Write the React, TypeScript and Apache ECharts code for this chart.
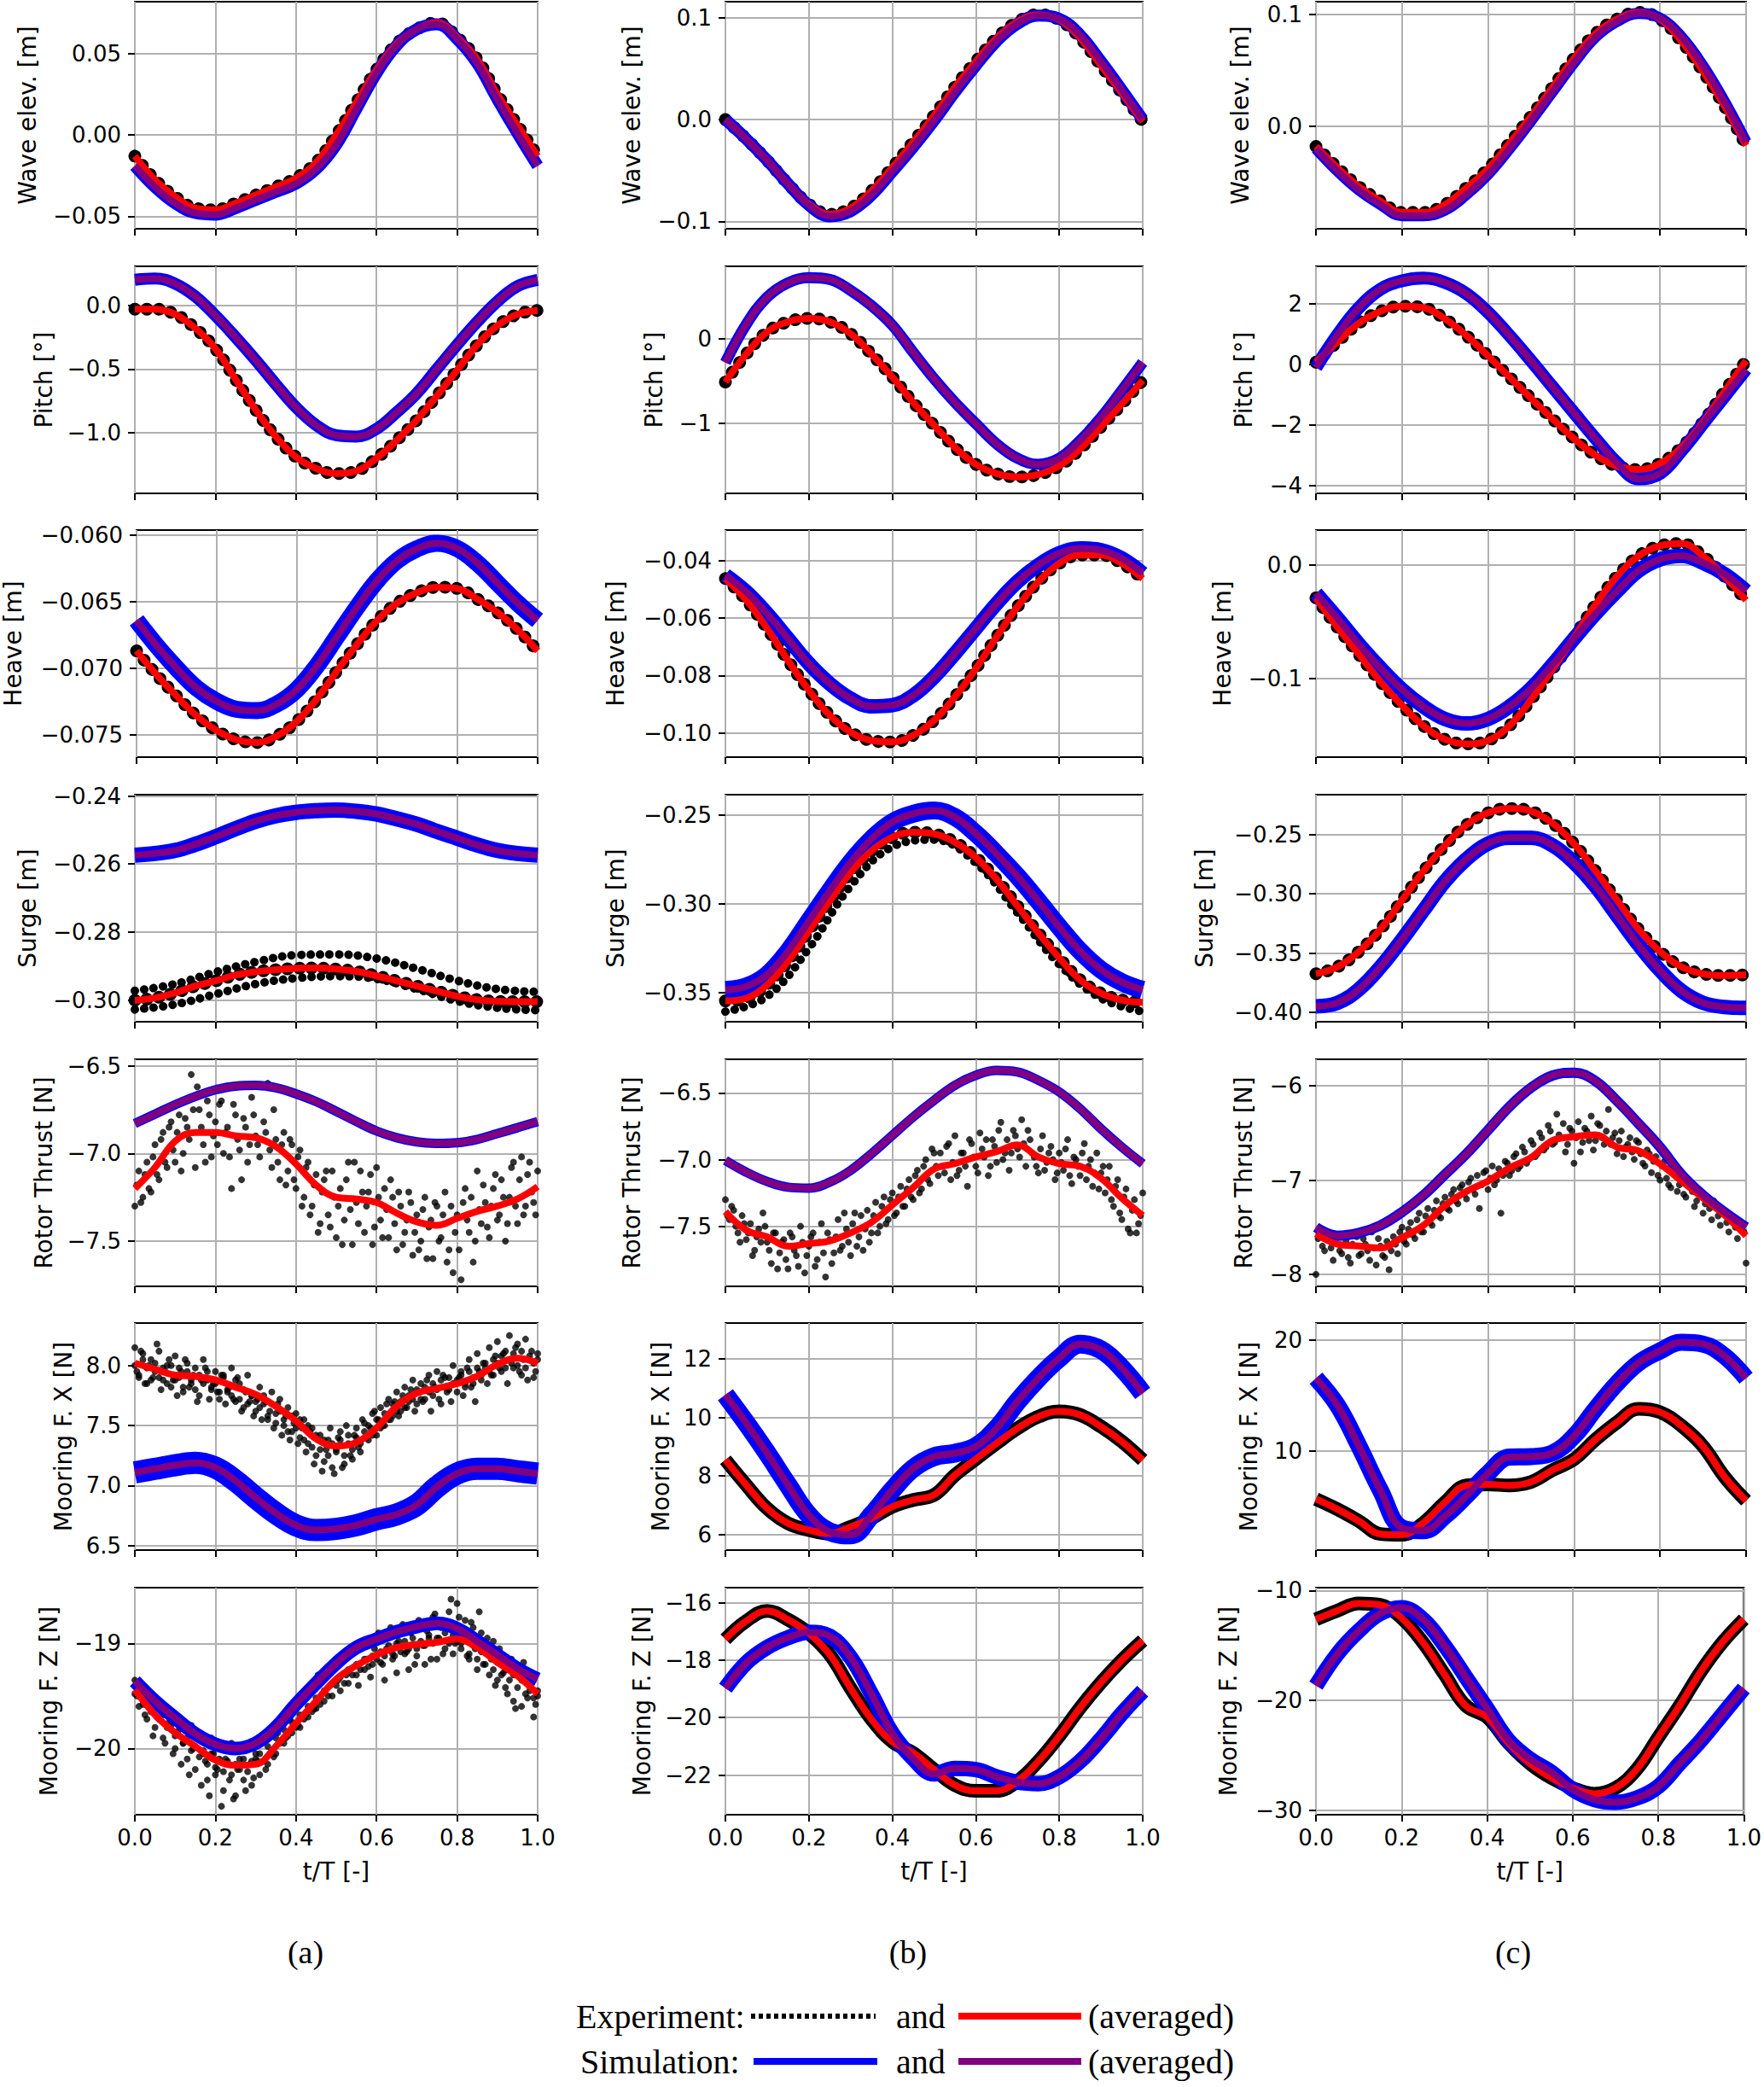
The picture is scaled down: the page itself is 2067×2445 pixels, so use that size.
import { useEffect, useRef } from "react";
import * as echarts from "echarts";

// time grids (t/T)
const T = [0, 0.05, 0.1, 0.15, 0.2, 0.25, 0.3, 0.35, 0.4, 0.45, 0.5, 0.55, 0.6, 0.65, 0.7, 0.75, 0.8, 0.85, 0.9, 0.95, 1];
const T10 = [0, 0.1, 0.2, 0.3, 0.4, 0.5, 0.6, 0.7, 0.8, 0.9, 1];
const TS = [
  0, 0.01, 0.02, 0.03, 0.04, 0.05, 0.06, 0.07, 0.08, 0.09, 0.1, 0.11, 0.12, 0.13, 0.14, 0.15, 0.16, 0.17, 0.18, 0.19,
  0.2, 0.21, 0.22, 0.23, 0.24, 0.25, 0.26, 0.27, 0.28, 0.29, 0.3, 0.31, 0.32, 0.33, 0.34, 0.35, 0.36, 0.37, 0.38, 0.39,
  0.4, 0.41, 0.42, 0.43, 0.44, 0.45, 0.46, 0.47, 0.48, 0.49, 0.5, 0.51, 0.52, 0.53, 0.54, 0.55, 0.56, 0.57, 0.58, 0.59,
  0.6, 0.61, 0.62, 0.63, 0.64, 0.65, 0.66, 0.67, 0.68, 0.69, 0.7, 0.71, 0.72, 0.73, 0.74, 0.75, 0.76, 0.77, 0.78, 0.79,
  0.8, 0.81, 0.82, 0.83, 0.84, 0.85, 0.86, 0.87, 0.88, 0.89, 0.9, 0.91, 0.92, 0.93, 0.94, 0.95, 0.96, 0.97, 0.98, 0.99, 1,
];
const TS2 = [
  0.005, 0.015, 0.025, 0.035, 0.045, 0.055, 0.065, 0.075, 0.085, 0.095, 0.105, 0.115, 0.125, 0.135, 0.145, 0.155, 0.165, 0.175, 0.185, 0.195,
  0.205, 0.215, 0.225, 0.235, 0.245, 0.255, 0.265, 0.275, 0.285, 0.295, 0.305, 0.315, 0.325, 0.335, 0.345, 0.355, 0.365, 0.375, 0.385, 0.395,
  0.405, 0.415, 0.425, 0.435, 0.445, 0.455, 0.465, 0.475, 0.485, 0.495, 0.505, 0.515, 0.525, 0.535, 0.545, 0.555, 0.565, 0.575, 0.585, 0.595,
  0.605, 0.615, 0.625, 0.635, 0.645, 0.655, 0.665, 0.675, 0.685, 0.695, 0.705, 0.715, 0.725, 0.735, 0.745, 0.755, 0.765, 0.775, 0.785, 0.795,
  0.805, 0.815, 0.825, 0.835, 0.845, 0.855, 0.865, 0.875, 0.885, 0.895, 0.905, 0.915, 0.925, 0.935, 0.945, 0.955, 0.965, 0.975, 0.985, 0.995,
];

// column (a)
const a_wave_exp = [-0.013, -0.0275, -0.038, -0.045, -0.046, -0.042, -0.037, -0.032, -0.0265, -0.017, 0.0, 0.02, 0.04, 0.056, 0.065, 0.069, 0.06, 0.0465, 0.025, 0.006, -0.013];
const a_wave_sim = [-0.019, -0.032, -0.042, -0.048, -0.049, -0.045, -0.04, -0.035, -0.03, -0.021, -0.006, 0.016, 0.038, 0.055, 0.065, 0.068, 0.059, 0.044, 0.022, 0.001, -0.019];
const a_pitch_exp = [-0.03, -0.03, -0.07, -0.18, -0.34, -0.58, -0.82, -1.03, -1.19, -1.28, -1.32, -1.3, -1.2, -1.06, -0.9, -0.71, -0.51, -0.31, -0.16, -0.07, -0.04];
const a_pitch_sim = [0.2, 0.21, 0.17, 0.07, -0.08, -0.25, -0.43, -0.62, -0.8, -0.94, -1.02, -1.03, -0.97, -0.84, -0.69, -0.5, -0.31, -0.13, 0.03, 0.15, 0.2];
const a_heave_exp = [-0.0687, -0.0705, -0.0721, -0.0736, -0.0747, -0.0754, -0.0756, -0.0751, -0.074, -0.0723, -0.0702, -0.0682, -0.0664, -0.0651, -0.0643, -0.0639, -0.064, -0.0648, -0.0658, -0.0671, -0.0687];
const a_heave_sim = [-0.0664, -0.0683, -0.07, -0.0715, -0.0725, -0.0731, -0.0732, -0.0727, -0.0716, -0.0698, -0.0676, -0.0654, -0.0634, -0.0619, -0.061, -0.0606, -0.061, -0.0621, -0.0636, -0.0651, -0.0664];
const a_surge_exp = [-0.3001, -0.2994, -0.2979, -0.2959, -0.2944, -0.2927, -0.2917, -0.2911, -0.2907, -0.2906, -0.2909, -0.2916, -0.2929, -0.2944, -0.2959, -0.2974, -0.2989, -0.2999, -0.3004, -0.3005, -0.3005];
const a_surge_sim = [-0.2574, -0.2569, -0.256, -0.2542, -0.252, -0.2496, -0.2474, -0.2458, -0.2448, -0.2443, -0.2441, -0.2445, -0.2453, -0.2467, -0.2483, -0.2504, -0.2524, -0.2544, -0.256, -0.2569, -0.2574];
const a_surge_hi = [-0.2973, -0.2953, -0.2918, -0.2888, -0.2868, -0.2866, -0.2878, -0.2908, -0.2943, -0.2968, -0.2976];
const a_surge_lo = [-0.3028, -0.3013, -0.2983, -0.2953, -0.2936, -0.293, -0.2938, -0.2968, -0.3003, -0.3023, -0.303];
const a_thrust_exp = [-7.2, -7.08, -6.93, -6.88, -6.88, -6.9, -6.91, -6.96, -7.06, -7.18, -7.25, -7.26, -7.28, -7.34, -7.39, -7.41, -7.37, -7.33, -7.3, -7.26, -7.19];
const a_thrust_sim = [-6.829, -6.776, -6.722, -6.675, -6.637, -6.616, -6.612, -6.625, -6.66, -6.704, -6.76, -6.818, -6.872, -6.91, -6.934, -6.943, -6.939, -6.92, -6.887, -6.853, -6.818];
const a_fx_exp = [8.02, 7.97, 7.92, 7.91, 7.88, 7.82, 7.76, 7.66, 7.54, 7.39, 7.33, 7.36, 7.48, 7.66, 7.77, 7.81, 7.85, 7.91, 8.01, 8.06, 8.02];
const a_fx_sim = [7.11, 7.14, 7.17, 7.19, 7.15, 7.04, 6.9, 6.77, 6.67, 6.63, 6.64, 6.67, 6.72, 6.76, 6.84, 6.99, 7.1, 7.14, 7.14, 7.12, 7.1];
const a_fz_exp = [-19.44, -19.68, -19.85, -19.98, -20.11, -20.16, -20.15, -19.98, -19.76, -19.55, -19.34, -19.21, -19.11, -19.04, -19.01, -18.99, -18.96, -19.04, -19.18, -19.31, -19.48];
const a_fz_sim = [-19.36, -19.55, -19.71, -19.86, -19.96, -20.0, -19.95, -19.8, -19.58, -19.38, -19.19, -19.04, -18.96, -18.89, -18.84, -18.81, -18.86, -18.98, -19.11, -19.24, -19.34];

// column (b)
const b_wave_exp = [0.0, -0.019, -0.04, -0.063, -0.083, -0.093, -0.087, -0.07, -0.047, -0.022, 0.004, 0.032, 0.057, 0.08, 0.096, 0.103, 0.098, 0.08, 0.053, 0.026, -0.002];
const b_wave_sim = [0.0, -0.019, -0.04, -0.063, -0.084, -0.095, -0.09, -0.074, -0.051, -0.027, -0.001, 0.027, 0.053, 0.077, 0.094, 0.102, 0.099, 0.083, 0.057, 0.029, 0.0];
const b_pitch_exp = [-0.51, -0.18, 0.08, 0.2, 0.24, 0.2, 0.06, -0.18, -0.45, -0.75, -1.02, -1.28, -1.48, -1.59, -1.63, -1.6, -1.5, -1.3, -1.04, -0.77, -0.49];
const b_pitch_sim = [-0.28, 0.17, 0.49, 0.66, 0.72, 0.7, 0.57, 0.39, 0.16, -0.16, -0.47, -0.75, -1.0, -1.24, -1.41, -1.48, -1.41, -1.2, -0.93, -0.61, -0.28];
const b_heave_exp = [-0.0462, -0.0537, -0.0636, -0.0747, -0.0851, -0.0938, -0.0997, -0.1026, -0.1031, -0.1008, -0.0956, -0.0874, -0.0776, -0.0665, -0.056, -0.0473, -0.0409, -0.038, -0.038, -0.0409, -0.0462];
const b_heave_sim = [-0.045, -0.0508, -0.0584, -0.0671, -0.0758, -0.0828, -0.088, -0.0907, -0.0903, -0.0869, -0.0805, -0.0723, -0.0636, -0.0549, -0.0473, -0.0415, -0.0374, -0.0357, -0.0363, -0.0392, -0.0444];
const b_surge_exp = [-0.3545, -0.353, -0.3455, -0.3323, -0.3153, -0.2984, -0.2824, -0.2702, -0.2626, -0.2598, -0.2607, -0.2654, -0.2739, -0.2862, -0.3012, -0.3163, -0.3304, -0.3427, -0.3502, -0.354, -0.3553];
const b_surge_sim = [-0.3483, -0.3464, -0.3398, -0.3267, -0.3097, -0.2928, -0.2767, -0.2636, -0.2541, -0.2494, -0.2476, -0.2513, -0.2605, -0.272, -0.2845, -0.2985, -0.313, -0.3265, -0.337, -0.344, -0.3483];
const b_surge_lo = [-0.3605, -0.352, -0.325, -0.29, -0.268, -0.264, -0.277, -0.305, -0.334, -0.353, -0.3605];
const b_thrust_exp = [-7.39, -7.53, -7.58, -7.65, -7.63, -7.61, -7.55, -7.47, -7.34, -7.21, -7.07, -7.03, -6.98, -6.94, -6.89, -6.98, -7.03, -7.05, -7.14, -7.29, -7.42];
const b_thrust_sim = [-7.006, -7.094, -7.164, -7.207, -7.214, -7.169, -7.081, -6.956, -6.818, -6.68, -6.555, -6.442, -6.367, -6.33, -6.342, -6.405, -6.492, -6.618, -6.768, -6.906, -7.031];
const b_fx_exp = [8.55, 7.69, 6.89, 6.38, 6.15, 6.03, 6.26, 6.55, 6.95, 7.18, 7.35, 8.03, 8.58, 9.12, 9.63, 10.03, 10.21, 10.09, 9.69, 9.18, 8.55];
const b_fx_sim = [10.78, 9.81, 8.78, 7.69, 6.66, 6.09, 5.98, 6.66, 7.52, 8.26, 8.66, 8.78, 9.01, 9.63, 10.55, 11.35, 12.03, 12.51, 12.32, 11.69, 10.83];
const b_fz_exp = [-17.27, -16.64, -16.29, -16.59, -17.07, -17.81, -18.98, -20.06, -20.84, -21.23, -21.81, -22.35, -22.55, -22.55, -22.21, -21.52, -20.64, -19.66, -18.78, -18.0, -17.32];
const b_fz_sim = [-18.98, -18.1, -17.56, -17.22, -17.03, -17.17, -17.91, -19.18, -20.55, -21.43, -21.96, -21.77, -21.81, -22.06, -22.25, -22.3, -22.06, -21.52, -20.74, -19.86, -19.08];

// column (c)
const c_wave_exp = [-0.018, -0.037, -0.054, -0.067, -0.077, -0.077, -0.07, -0.055, -0.038, -0.015, 0.009, 0.035, 0.061, 0.083, 0.096, 0.102, 0.096, 0.076, 0.049, 0.018, -0.017];
const c_wave_sim = [-0.02, -0.04, -0.057, -0.07, -0.08, -0.08, -0.075, -0.061, -0.043, -0.02, 0.005, 0.031, 0.057, 0.08, 0.094, 0.101, 0.097, 0.08, 0.054, 0.022, -0.014];
const c_pitch_exp = [0.07, 0.74, 1.36, 1.75, 1.92, 1.87, 1.5, 0.95, 0.28, -0.42, -1.12, -1.8, -2.45, -3.0, -3.36, -3.47, -3.27, -2.74, -1.9, -0.89, 0.12];
const c_pitch_sim = [-0.1, 0.97, 1.87, 2.48, 2.76, 2.85, 2.7, 2.33, 1.72, 0.95, 0.12, -0.74, -1.6, -2.45, -3.25, -3.78, -3.6, -2.85, -1.96, -1.06, -0.16];
const c_heave_exp = [-0.029, -0.055, -0.079, -0.103, -0.124, -0.142, -0.154, -0.158, -0.155, -0.142, -0.119, -0.092, -0.064, -0.035, -0.01, 0.008, 0.017, 0.019, 0.008, -0.01, -0.031];
const c_heave_sim = [-0.025, -0.047, -0.07, -0.091, -0.11, -0.125, -0.136, -0.14, -0.136, -0.125, -0.109, -0.088, -0.065, -0.043, -0.023, -0.005, 0.005, 0.008, 0.002, -0.008, -0.023];
const c_surge_exp = [-0.3674, -0.3616, -0.3486, -0.3299, -0.3054, -0.2809, -0.2592, -0.2419, -0.2318, -0.2281, -0.2304, -0.2405, -0.2578, -0.2809, -0.3054, -0.3299, -0.3486, -0.3616, -0.3674, -0.3688, -0.3683];
const c_surge_sim = [-0.3948, -0.3919, -0.3804, -0.3616, -0.3386, -0.314, -0.2895, -0.2708, -0.2578, -0.2529, -0.2529, -0.2592, -0.2737, -0.2938, -0.3184, -0.3429, -0.3645, -0.3818, -0.3919, -0.3954, -0.3962];
const c_thrust_exp = [-7.57, -7.68, -7.7, -7.72, -7.61, -7.48, -7.27, -7.12, -7.01, -6.87, -6.76, -6.58, -6.54, -6.52, -6.65, -6.69, -6.83, -7.01, -7.19, -7.37, -7.59];
const c_thrust_sim = [-7.5, -7.59, -7.56, -7.48, -7.34, -7.16, -6.94, -6.72, -6.47, -6.22, -6.02, -5.89, -5.86, -5.95, -6.16, -6.4, -6.65, -6.94, -7.16, -7.34, -7.5];
const c_fx_exp = [5.67, 4.75, 3.68, 2.52, 2.45, 3.53, 5.37, 6.9, 6.99, 6.9, 7.21, 8.28, 9.26, 11.04, 12.58, 13.8, 13.5, 12.27, 10.43, 7.67, 5.52];
const c_fx_sim = [16.56, 14.11, 10.43, 6.44, 3.07, 2.82, 4.14, 5.98, 7.98, 9.45, 9.5, 9.82, 11.35, 13.8, 16.1, 17.94, 19.02, 19.79, 19.63, 18.56, 16.56];
const c_fz_exp = [-12.62, -11.83, -11.18, -11.31, -12.49, -14.72, -17.6, -20.47, -21.52, -23.88, -25.73, -27.04, -27.96, -28.48, -27.96, -26.25, -23.36, -20.47, -17.34, -14.72, -12.62];
const c_fz_sim = [-18.65, -15.77, -13.67, -12.1, -11.57, -12.62, -14.98, -17.86, -20.73, -23.62, -25.33, -26.51, -28.09, -29.0, -29.27, -28.87, -27.83, -25.73, -23.62, -21.26, -18.91];

// raw experiment samples (scatter)
const a_thrust_dots = [
  -7.3, -7.1, -7.25, -7.05, -7.22, -6.95, -7.15, -6.88, -7.08, -6.82,
  -7.05, -6.78, -7.0, -6.85, -6.55, -7.08, -6.75, -6.95, -6.7, -7.02,
  -6.82, -6.72, -7.0, -6.85, -7.2, -6.78, -6.98, -6.8, -7.05, -6.68,
  -6.9, -7.02, -6.82, -6.6, -7.08, -6.92, -7.15, -6.88, -7.1, -6.95,
  -7.2, -6.98, -7.25, -7.05, -7.3, -7.12, -7.4, -7.15, -7.35, -7.1,
  -7.48, -7.2, -7.38, -7.05, -7.52, -7.28, -7.1, -7.45, -7.22, -7.52,
  -7.08, -7.38, -7.2, -7.48, -7.25, -7.55, -7.3, -7.45, -7.22, -7.58,
  -7.35, -7.5, -7.25, -7.42, -7.6, -7.3, -7.48, -7.22, -7.55, -7.68,
  -7.35, -7.72, -7.2, -7.45, -7.62, -7.1, -7.4, -7.28, -7.48, -7.2,
  -7.38, -7.15, -7.5, -7.25, -7.05, -7.4, -7.02, -7.3, -7.05, -7.28,
  -7.1,
];
const a_thrust_dots2 = [
  -7.18, -7.28, -7.12, -7.2, -7.02, -7.12, -6.92, -7.05, -6.85, -6.98,
  -6.88, -7.1, -6.8, -6.92, -6.75, -6.62, -6.85, -7.05, -6.78, -6.9,
  -6.95, -6.7, -6.88, -7.02, -6.72, -6.92, -7.15, -6.85, -6.95, -6.78,
  -6.95, -6.62, -6.88, -6.98, -6.75, -7.05, -6.95, -7.18, -6.92, -7.15,
  -7.02, -7.3, -7.08, -7.35, -7.18, -7.45, -7.22, -7.1, -7.42, -7.25,
  -7.3, -7.52, -7.15, -7.32, -7.05, -7.4, -7.22, -7.3, -7.12, -7.42,
  -7.25, -7.48, -7.32, -7.15, -7.4, -7.22, -7.52, -7.38, -7.28, -7.45,
  -7.55, -7.32, -7.6, -7.38, -7.28, -7.5, -7.35, -7.62, -7.3, -7.45,
  -7.55, -7.28, -7.38, -7.25, -7.5, -7.32, -7.18, -7.42, -7.3, -7.12,
  -7.35, -7.25, -7.4, -7.08, -7.3, -7.15, -7.35, -7.12, -7.22, -7.35,
];
const b_thrust_dots = [
  -7.3, -7.45, -7.38, -7.55, -7.42, -7.6, -7.48, -7.68, -7.52, -7.4,
  -7.62, -7.78, -7.55, -7.7, -7.6, -7.82, -7.58, -7.72, -7.5, -7.85,
  -7.65, -7.55, -7.75, -7.48, -7.88, -7.6, -7.7, -7.45, -7.65, -7.52,
  -7.72, -7.4, -7.58, -7.68, -7.38, -7.55, -7.32, -7.5, -7.28, -7.45,
  -7.25, -7.4, -7.2, -7.35, -7.15, -7.3, -7.08, -7.22, -7.0, -7.18,
  -6.95, -7.12, -7.05, -6.9, -7.15, -6.82, -7.08, -6.95, -7.2, -6.88,
  -7.05, -6.8, -6.98, -7.12, -6.85, -7.02, -6.72, -6.95, -7.08, -6.78,
  -6.92, -6.7, -7.05, -6.85, -6.98, -7.1, -6.82, -7.02, -6.9, -7.15,
  -6.95, -7.08, -6.85, -7.18, -7.0, -7.12, -6.88, -7.05, -7.2, -6.95,
  -7.1, -7.25, -7.05, -7.35, -7.15, -7.45, -7.22, -7.55, -7.3, -7.48,
  -7.25,
];
const b_thrust_dots2 = [
  -7.42, -7.35, -7.5, -7.62, -7.48, -7.55, -7.72, -7.58, -7.62, -7.5,
  -7.68, -7.55, -7.82, -7.62, -7.75, -7.55, -7.68, -7.8, -7.62, -7.72,
  -7.58, -7.8, -7.62, -7.7, -7.55, -7.78, -7.58, -7.68, -7.4, -7.62,
  -7.48, -7.65, -7.42, -7.52, -7.62, -7.42, -7.55, -7.35, -7.48, -7.3,
  -7.42, -7.28, -7.35, -7.22, -7.28, -7.12, -7.25, -7.05, -7.15, -6.92,
  -7.05, -6.95, -7.1, -6.88, -7.02, -7.12, -6.95, -7.05, -6.85, -6.98,
  -7.1, -6.92, -6.85, -7.05, -6.9, -6.78, -7.0, -6.85, -6.95, -6.82,
  -6.98, -6.88, -6.78, -6.95, -7.05, -6.92, -7.08, -6.95, -7.0, -7.1,
  -7.02, -6.92, -7.12, -6.98, -7.05, -6.95, -7.15, -7.0, -7.1, -7.22,
  -7.05, -7.15, -7.3, -7.2, -7.4, -7.28, -7.52, -7.38, -7.55, -7.42,
];
const c_thrust_dots = [
  -8.0, -7.55, -7.75, -7.62, -7.85, -7.6, -7.78, -7.65, -7.88, -7.58,
  -7.8, -7.62, -7.75, -7.55, -7.9, -7.7, -7.82, -7.95, -7.6, -7.78,
  -7.5, -7.68, -7.45, -7.62, -7.35, -7.55, -7.3, -7.48, -7.22, -7.4,
  -7.18, -7.32, -7.1, -7.25, -7.05, -7.2, -6.98, -7.15, -7.3, -6.92,
  -7.1, -6.85, -7.0, -7.35, -6.8, -6.95, -6.75, -6.88, -6.65, -6.82,
  -6.58, -6.75, -6.5, -6.68, -6.42, -6.62, -6.3, -6.55, -6.7, -6.45,
  -6.82, -6.38, -6.6, -6.48, -6.32, -6.58, -6.42, -6.62, -6.25, -6.55,
  -6.72, -6.48, -6.65, -6.55, -6.78, -6.6, -6.82, -6.68, -6.92, -6.75,
  -7.0, -6.8, -7.05, -6.9, -7.12, -6.95, -7.18, -7.05, -7.28, -7.1,
  -7.35, -7.2, -7.42, -7.28, -7.48, -7.35, -7.55, -7.42, -7.62, -7.5,
  -7.88,
];
const c_thrust_dots2 = [
  -7.62, -7.7, -7.58, -7.72, -7.65, -7.75, -7.58, -7.82, -7.68, -7.6,
  -7.78, -7.68, -7.85, -7.72, -7.62, -7.8, -7.65, -7.75, -7.68, -7.55,
  -7.65, -7.52, -7.58, -7.42, -7.55, -7.38, -7.45, -7.32, -7.38, -7.25,
  -7.3, -7.15, -7.22, -7.08, -7.15, -7.02, -7.1, -6.95, -7.05, -6.9,
  -6.98, -7.05, -6.88, -6.95, -6.82, -6.9, -6.72, -6.85, -6.7, -6.78,
  -6.62, -6.72, -6.55, -6.65, -6.48, -6.6, -6.52, -6.4, -6.62, -6.48,
  -6.55, -6.7, -6.45, -6.58, -6.68, -6.4, -6.55, -6.48, -6.62, -6.5,
  -6.58, -6.75, -6.62, -6.7, -6.58, -6.72, -6.85, -6.72, -6.8, -6.95,
  -6.85, -6.98, -7.08, -6.95, -7.05, -7.15, -7.02, -7.12, -7.22, -7.15,
  -7.25, -7.3, -7.22, -7.38, -7.32, -7.45, -7.38, -7.5, -7.45, -7.55,
];
const a_fx_dots1 = [
  8.15, 7.9, 8.1, 7.85, 8.05, 7.95, 8.12, 7.88, 8.0, 7.82,
  8.08, 7.9, 7.78, 8.02, 7.85, 7.98, 7.75, 8.05, 7.88, 7.8,
  7.95, 7.72, 7.9, 7.78, 7.98, 7.7, 7.85, 7.65, 7.92, 7.75,
  7.62, 7.82, 7.68, 7.55, 7.78, 7.6, 7.72, 7.5, 7.65, 7.45,
  7.6, 7.4, 7.55, 7.35, 7.48, 7.25, 7.42, 7.2, 7.38, 7.15,
  7.3, 7.45, 7.18, 7.35, 7.22, 7.48, 7.28, 7.52, 7.38, 7.6,
  7.42, 7.65, 7.5, 7.72, 7.58, 7.78, 7.62, 7.82, 7.7, 7.88,
  7.68, 7.85, 7.72, 7.92, 7.75, 7.95, 7.68, 7.9, 7.8, 8.0,
  7.78, 7.95, 7.82, 8.05, 7.85, 8.1, 7.88, 7.98, 8.15, 7.92,
  8.2, 7.95, 8.12, 8.25, 7.98, 8.18, 7.92, 8.22, 8.05, 7.9,
  8.1,
];
const a_fx_dots2 = [
  7.95, 8.12, 7.85, 8.0, 7.9, 8.18, 7.8, 7.95, 8.05, 7.88,
  7.75, 7.95, 8.05, 7.82, 7.92, 7.7, 7.88, 7.98, 7.72, 7.85,
  7.78, 7.92, 7.68, 7.82, 7.72, 7.9, 7.62, 7.78, 7.7, 7.58,
  7.72, 7.55, 7.7, 7.62, 7.48, 7.68, 7.42, 7.58, 7.38, 7.52,
  7.35, 7.48, 7.28, 7.45, 7.18, 7.38, 7.12, 7.3, 7.48, 7.1,
  7.4, 7.15, 7.5, 7.25, 7.42, 7.32, 7.55, 7.4, 7.48, 7.62,
  7.55, 7.5, 7.68, 7.55, 7.7, 7.58, 7.75, 7.65, 7.8, 7.62,
  7.78, 7.7, 7.88, 7.62, 7.82, 7.72, 7.92, 7.78, 7.7, 7.85,
  7.9, 7.75, 7.98, 7.82, 7.7, 7.95, 8.02, 7.85, 7.92, 8.08,
  7.98, 8.1, 7.85, 8.02, 8.15, 7.95, 8.05, 7.88, 8.12, 7.95,
];
const a_fx_dots3 = [
  8.0, 7.92, 8.05, 7.98, 7.88, 8.02, 7.9, 7.98, 7.85, 8.0,
  7.88, 7.98, 7.82, 7.95, 7.88, 7.8, 7.92, 7.85, 7.95, 7.82,
  7.85, 7.78, 7.92, 7.8, 7.75, 7.88, 7.72, 7.8, 7.68, 7.75,
  7.7, 7.65, 7.75, 7.58, 7.68, 7.52, 7.62, 7.55, 7.45, 7.58,
  7.48, 7.55, 7.38, 7.5, 7.32, 7.42, 7.3, 7.38, 7.25, 7.35,
  7.28, 7.38, 7.25, 7.42, 7.3, 7.4, 7.35, 7.45, 7.5, 7.42,
  7.55, 7.48, 7.6, 7.55, 7.68, 7.62, 7.7, 7.65, 7.75, 7.72,
  7.8, 7.72, 7.82, 7.78, 7.85, 7.8, 7.88, 7.82, 7.9, 7.85,
  7.88, 7.92, 7.85, 7.95, 7.9, 7.98, 7.92, 8.02, 7.95, 8.05,
  8.02, 8.08, 7.98, 8.05, 8.1, 8.0, 8.12, 7.98, 8.08, 8.02,
  8.05,
];
const a_fz_dots1 = [
  -19.35, -19.6, -19.45, -19.72, -19.52, -19.8, -19.58, -19.9, -19.65, -19.78,
  -20.0, -19.7, -19.95, -20.1, -19.78, -20.2, -19.85, -20.05, -20.3, -19.9,
  -20.25, -20.0, -20.4, -20.15, -19.95, -20.45, -20.1, -20.3, -19.98, -20.35,
  -20.05, -20.25, -19.9, -20.15, -19.8, -20.05, -19.75, -19.95, -19.62, -19.85,
  -19.55, -19.8, -19.48, -19.7, -19.4, -19.62, -19.35, -19.55, -19.28, -19.5,
  -19.22, -19.45, -19.15, -19.38, -19.1, -19.3, -19.02, -19.25, -18.98, -19.2,
  -18.95, -19.18, -19.35, -18.92, -19.15, -19.28, -18.88, -19.1, -19.25, -18.85,
  -19.12, -18.8, -19.2, -18.95, -18.75, -19.15, -18.85, -19.05, -18.7, -19.1,
  -18.62, -19.0, -18.78, -19.15, -18.85, -19.25, -18.9, -19.08, -19.3, -18.98,
  -19.35, -19.1, -19.42, -19.2, -19.55, -19.25, -19.6, -19.35, -19.45, -19.7,
  -19.5,
];
const a_fz_dots2 = [
  -19.5, -19.38, -19.68, -19.55, -19.88, -19.7, -19.62, -19.95, -19.75, -20.05,
  -19.85, -20.15, -19.92, -20.25, -20.0, -19.88, -20.35, -20.12, -20.45, -20.05,
  -20.2, -20.55, -20.1, -20.3, -20.48, -20.2, -20.02, -20.4, -20.15, -20.28,
  -20.12, -19.95, -20.2, -19.88, -20.08, -19.85, -19.7, -19.9, -19.72, -19.6,
  -19.78, -19.5, -19.68, -19.42, -19.62, -19.3, -19.48, -19.25, -19.4, -19.18,
  -19.35, -19.12, -19.3, -19.05, -19.22, -19.4, -19.0, -19.15, -19.32, -19.05,
  -18.9, -19.2, -19.05, -18.85, -19.12, -18.98, -18.82, -19.08, -18.9, -19.2,
  -18.78, -19.02, -18.88, -19.15, -18.72, -18.95, -19.1, -18.8, -18.58, -19.0,
  -18.75, -18.92, -19.12, -18.8, -19.05, -18.7, -19.2, -18.95, -19.15, -19.4,
  -19.05, -19.28, -19.48, -19.15, -19.62, -19.3, -19.18, -19.52, -19.38, -19.58,
];
const a_fz_dots3 = [
  -19.48, -19.42, -19.58, -19.52, -19.65, -19.6, -19.72, -19.68, -19.8, -19.75,
  -19.88, -19.82, -19.95, -19.9, -20.02, -19.98, -20.08, -20.02, -20.15, -20.05,
  -20.18, -20.1, -20.22, -20.12, -20.25, -20.15, -20.2, -20.1, -20.22, -20.12,
  -20.1, -20.05, -20.12, -19.98, -20.05, -19.9, -19.95, -19.82, -19.88, -19.75,
  -19.8, -19.68, -19.72, -19.6, -19.65, -19.52, -19.58, -19.45, -19.5, -19.38,
  -19.4, -19.32, -19.38, -19.25, -19.3, -19.2, -19.25, -19.15, -19.22, -19.12,
  -19.15, -19.08, -19.12, -19.02, -19.1, -19.0, -19.08, -18.98, -19.05, -18.95,
  -19.05, -18.98, -19.02, -18.92, -19.0, -18.95, -18.98, -18.9, -19.0, -18.92,
  -18.98, -19.05, -18.95, -19.1, -19.02, -19.15, -19.08, -19.2, -19.12, -19.25,
  -19.18, -19.3, -19.25, -19.35, -19.3, -19.42, -19.35, -19.48, -19.4, -19.52,
  -19.45,
];

const ROW_NAMES = ["Wave elev. [m]", "Pitch [°]", "Heave [m]", "Surge [m]", "Rotor Thrust [N]", "Mooring F. X [N]", "Mooring F. Z [N]"];

type Kind = "dot" | "scatter" | "band";
type Panel = {
  col: number;
  row: number;
  min: number;
  max: number;
  ticks: number[];
  dec: number;
  gap: number;
  exp: number[];
  sim: number[];
  blue: number;
  kind: Kind;
  extra?: [number[], number[]][];
  dots?: [number[], number[]][];
};

const PANELS: Panel[] = [
  { col: 0, row: 0, min: -0.0577, max: 0.0819, ticks: [-0.05, 0, 0.05], dec: 2, gap: 112, exp: a_wave_exp, sim: a_wave_sim, blue: 14, kind: "dot" },
  { col: 0, row: 1, min: -1.476, max: 0.306, ticks: [-1, -0.5, 0], dec: 1, gap: 93, exp: a_pitch_exp, sim: a_pitch_sim, blue: 14, kind: "dot" },
  { col: 0, row: 2, min: -0.0767, max: -0.0596, ticks: [-0.075, -0.07, -0.065, -0.06], dec: 3, gap: 131, exp: a_heave_exp, sim: a_heave_sim, blue: 20, kind: "dot" },
  { col: 0, row: 3, min: -0.3064, max: -0.2396, ticks: [-0.3, -0.28, -0.26, -0.24], dec: 2, gap: 112, exp: a_surge_exp, sim: a_surge_sim, blue: 18, kind: "dot", extra: [[T10, a_surge_hi], [T10, a_surge_lo]] },
  { col: 0, row: 4, min: -7.758, max: -6.463, ticks: [-7.5, -7, -6.5], dec: 1, gap: 93, exp: a_thrust_exp, sim: a_thrust_sim, blue: 11, kind: "scatter", dots: [[TS, a_thrust_dots], [TS2, a_thrust_dots2]] },
  { col: 0, row: 5, min: 6.463, max: 8.354, ticks: [6.5, 7, 7.5, 8], dec: 1, gap: 70, exp: a_fx_exp, sim: a_fx_sim, blue: 26, kind: "scatter", dots: [[TS, a_fx_dots1], [TS2, a_fx_dots2], [TS, a_fx_dots3]] },
  { col: 0, row: 6, min: -20.63, max: -18.47, ticks: [-20, -19], dec: 0, gap: 87, exp: a_fz_exp, sim: a_fz_sim, blue: 16, kind: "scatter", dots: [[TS, a_fz_dots1], [TS2, a_fz_dots2], [TS, a_fz_dots3]] },

  { col: 1, row: 0, min: -0.1072, max: 0.1157, ticks: [-0.1, 0, 0.1], dec: 1, gap: 96, exp: b_wave_exp, sim: b_wave_sim, blue: 14, kind: "dot" },
  { col: 1, row: 1, min: -1.823, max: 0.854, ticks: [-1, 0], dec: 0, gap: 70, exp: b_pitch_exp, sim: b_pitch_sim, blue: 13, kind: "dot" },
  { col: 1, row: 2, min: -0.1084, max: -0.0293, ticks: [-0.1, -0.08, -0.06, -0.04], dec: 2, gap: 115, exp: b_heave_exp, sim: b_heave_sim, blue: 17, kind: "dot" },
  { col: 1, row: 3, min: -0.3662, max: -0.2387, ticks: [-0.35, -0.3, -0.25], dec: 2, gap: 115, exp: b_surge_exp, sim: b_surge_sim, blue: 21, kind: "dot", extra: [[T10, b_surge_lo]] },
  { col: 1, row: 4, min: -7.951, max: -6.247, ticks: [-7.5, -7, -6.5], dec: 1, gap: 96, exp: b_thrust_exp, sim: b_thrust_sim, blue: 11, kind: "scatter", dots: [[TS, b_thrust_dots], [TS2, b_thrust_dots2]] },
  { col: 1, row: 5, min: 5.463, max: 13.234, ticks: [6, 8, 10, 12], dec: 0, gap: 62, exp: b_fx_exp, sim: b_fx_sim, blue: 22, kind: "band" },
  { col: 1, row: 6, min: -23.38, max: -15.48, ticks: [-22, -20, -18, -16], dec: 0, gap: 84, exp: b_fz_exp, sim: b_fz_sim, blue: 18, kind: "band" },

  { col: 2, row: 0, min: -0.0917, max: 0.1116, ticks: [0, 0.1], dec: 1, gap: 75, exp: c_wave_exp, sim: c_wave_sim, blue: 13, kind: "dot" },
  { col: 2, row: 1, min: -4.258, max: 3.236, ticks: [-4, -2, 0, 2], dec: 0, gap: 71, exp: c_pitch_exp, sim: c_pitch_sim, blue: 15, kind: "dot" },
  { col: 2, row: 2, min: -0.1697, max: 0.0309, ticks: [-0.1, 0], dec: 1, gap: 96, exp: c_heave_exp, sim: c_heave_sim, blue: 17, kind: "dot" },
  { col: 2, row: 3, min: -0.4078, max: -0.2165, ticks: [-0.4, -0.35, -0.3, -0.25], dec: 2, gap: 117, exp: c_surge_exp, sim: c_surge_sim, blue: 17, kind: "dot" },
  { col: 2, row: 4, min: -8.127, max: -5.718, ticks: [-8, -7, -6], dec: 0, gap: 71, exp: c_thrust_exp, sim: c_thrust_sim, blue: 12, kind: "scatter", dots: [[TS, c_thrust_dots], [TS2, c_thrust_dots2]] },
  { col: 2, row: 5, min: 1.07, max: 21.53, ticks: [10, 20], dec: 0, gap: 65, exp: c_fx_exp, sim: c_fx_sim, blue: 20, kind: "band" },
  { col: 2, row: 6, min: -30.39, max: -9.74, ticks: [-30, -20, -10], dec: 0, gap: 89, exp: c_fz_exp, sim: c_fz_sim, blue: 18, kind: "band" },
];

const COL_LEFT = [158, 850, 1542];
const COL_WIDTH = [472, 489, 504];
const ROW_TOP = [2, 312, 621, 931, 1241, 1550, 1860];
const ROW_H = 266;

const FONT = "DejaVu Sans";
const SERIF = "Liberation Serif";

const pts = (xs: number[], ys: number[]) => xs.map((x, i) => [x, ys[i]]);
const fmt = (v: number, d: number) => (Math.abs(v) < 1e-9 ? (0).toFixed(d) : v.toFixed(d)).replace("-", "\u2212");

function buildOption() {
  const grid: any[] = [];
  const xAxis: any[] = [];
  const yAxis: any[] = [];
  const series: any[] = [];
  const gridLine = { show: true, lineStyle: { color: "#b0b0b0", width: 2 } };
  const tick = { show: true, inside: false, length: 8, lineStyle: { color: "#000", width: 2 } };

  PANELS.forEach((p, i) => {
    const last = p.row === 6;
    grid.push({
      left: COL_LEFT[p.col],
      top: ROW_TOP[p.row],
      width: COL_WIDTH[p.col],
      height: ROW_H,
      show: true,
      borderColor: "#000",
      borderWidth: 2,
      backgroundColor: "transparent",
    });
    xAxis.push({
      type: "value",
      gridIndex: i,
      min: 0,
      max: 1,
      interval: 0.2,
      axisLine: { show: false, onZero: false },
      axisTick: tick,
      splitLine: gridLine,
      axisLabel: {
        show: last,
        fontSize: 26,
        fontFamily: FONT,
        color: "#000",
        margin: 14,
        formatter: (v: number) => v.toFixed(1),
      },
      name: last ? "t/T [-]" : "",
      nameLocation: "middle",
      nameGap: 52,
      nameTextStyle: { fontSize: 28, fontFamily: FONT, color: "#000" },
    });
    yAxis.push({
      type: "value",
      gridIndex: i,
      min: p.min,
      max: p.max,
      axisLine: { show: false, onZero: false },
      axisTick: { ...tick, customValues: p.ticks },
      splitLine: gridLine,
      axisLabel: {
        customValues: p.ticks,
        fontSize: 26,
        fontFamily: FONT,
        color: "#000",
        margin: 16,
        formatter: (v: number) => fmt(v, p.dec),
      },
      name: ROW_NAMES[p.row],
      nameLocation: "middle",
      nameRotate: 90,
      nameGap: p.gap,
      nameTextStyle: { fontSize: 28, fontFamily: FONT, color: "#000" },
    });

    const base = { xAxisIndex: i, yAxisIndex: i, silent: true, showSymbol: false, smooth: 0.4 };
    if (p.kind === "scatter") {
      (p.dots || []).forEach(([xs, ys]) => {
        series.push({ type: "scatter", xAxisIndex: i, yAxisIndex: i, silent: true, symbolSize: 8, itemStyle: { color: "#000" }, data: pts(xs, ys) });
      });
    } else if (p.kind === "band") {
      series.push({ ...base, type: "line", data: pts(T, p.exp), lineStyle: { color: "#000", width: 16 } });
    } else {
      series.push({ ...base, type: "line", data: pts(T, p.exp), lineStyle: { color: "#000", width: 15, type: [0.1, 14], cap: "round" } });
      (p.extra || []).forEach(([xs, ys]) => {
        series.push({ ...base, type: "line", data: pts(xs, ys), lineStyle: { color: "#000", width: 10, type: [0.1, 11], cap: "round" } });
      });
    }
    series.push({ ...base, type: "line", data: pts(T, p.sim), lineStyle: { color: "#0000ff", width: p.blue } });
    series.push({ ...base, type: "line", data: pts(T, p.exp), lineStyle: { color: "#ff0000", width: 8 } });
    series.push({ ...base, type: "line", data: pts(T, p.sim), lineStyle: { color: "#800080", width: 8 } });
  });

  const txt = (text: string, x: number, y: number, align: string, size: number) => ({
    type: "text",
    x,
    y,
    style: { text, fill: "#000", font: `${size}px "${SERIF}"`, align, verticalAlign: "middle" },
  });
  const seg = (x1: number, x2: number, y: number, stroke: string, lineWidth: number, dash?: number[]) => ({
    type: "line",
    shape: { x1, y1: y, x2, y2: y },
    style: { stroke, lineWidth, lineDash: dash },
  });

  const graphic = [
    txt("(a)", 358, 2287, "center", 38),
    txt("(b)", 1064, 2287, "center", 38),
    txt("(c)", 1773, 2287, "center", 38),
    txt("Experiment:", 675, 2362, "left", 40),
    seg(880, 1026, 2362, "#000", 6, [5, 4]),
    txt("and", 1050, 2362, "left", 40),
    seg(1123, 1267, 2362, "#ff0000", 8),
    txt("(averaged)", 1275, 2362, "left", 40),
    txt("Simulation:", 680, 2415, "left", 40),
    seg(883, 1028, 2415, "#0000ff", 8),
    txt("and", 1050, 2415, "left", 40),
    seg(1123, 1267, 2415, "#800080", 8),
    txt("(averaged)", 1275, 2415, "left", 40),
  ];

  return {
    animation: false,
    backgroundColor: "#fff",
    textStyle: { fontFamily: FONT },
    grid,
    xAxis,
    yAxis,
    series,
    graphic,
  };
}

export default function App() {
  const ref = useRef<HTMLDivElement | null>(null);

  useEffect(() => {
    document.body.style.margin = "0";
    if (!ref.current) return;
    const chart = echarts.init(ref.current, undefined, { renderer: "svg" });
    chart.setOption(buildOption());
    return () => {
      chart.dispose();
    };
  }, []);

  return <div ref={ref} style={{ width: 2067, height: 2445 }} />;
}
